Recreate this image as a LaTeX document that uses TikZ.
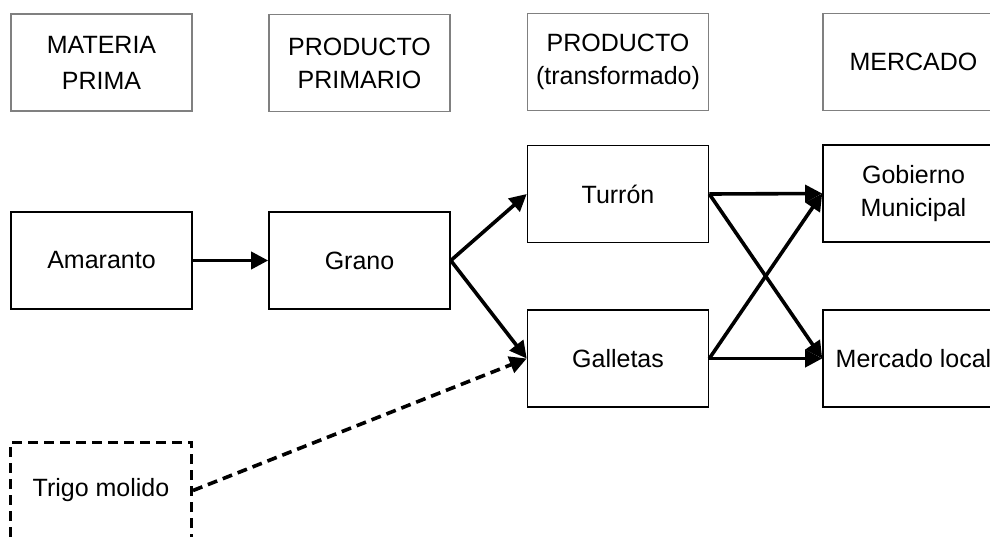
\documentclass[tikz,border=0pt]{standalone}
\usepackage{fontspec}
\setmainfont{Liberation Sans}
\usetikzlibrary{arrows.meta}
\definecolor{hdrgray}{HTML}{808080}
\tikzset{
  box/.style={draw=black, line width=1.6pt, minimum width=181pt, minimum height=97pt,
    inner sep=0pt, align=center, font=\fontsize{25}{33}\selectfont},
  hdr/.style={box, draw=hdrgray, line width=1.8pt},
  dbox/.style={box, dash pattern=on 10pt off 6pt, line width=3pt},
  conn/.style={line width=3.6pt, -{Triangle[length=17pt,width=17pt]}},
  dconn/.style={conn, dash pattern=on 10pt off 6pt}
}
\begin{document}
\begin{tikzpicture}[x=1pt,y=-1pt]
\useasboundingbox (0,0) rectangle (990,536);
\clip (0,0) rectangle (990,536);
% headers
\node[hdr, font=\fontsize{25}{36}\selectfont] (h1) at (101.5,62.5) {MATERIA\\PRIMA};
\node[hdr] (h2) at (359.5,63) {PRODUCTO\\PRIMARIO};
\node[hdr] (h3) at (618,62) {PRODUCTO\\(transformado)};
\node[hdr] (h4) at (913.5,62) {MERCADO};
% boxes
\node[box] (ama) at (101.5,260.5) {Amaranto};
\node[box] (gra) at (359.5,260.5) {Grano};
\node[box] (tur) at (618,194) {Turrón};
\node[box] (gal) at (618,358.5) {Galletas};
\node[box] (gob) at (913.5,193.5) {Gobierno\\Municipal};
\node[box] (mer) at (913.5,358.5) {Mercado local};
\node[dbox] (tri) at (101,490.5) {Trigo molido};
% connectors
\draw[conn] (ama.east) -- (gra.west);
\draw[conn] (gra.east) -- (tur.west);
\draw[conn] (gra.east) -- (gal.west);
\draw[conn] (tur.east) -- (gob.west);
\draw[conn] (tur.east) -- (mer.west);
\draw[conn] (gal.east) -- (gob.west);
\draw[conn] (gal.east) -- (mer.west);
\draw[dconn] (tri.east) -- (gal.west);
\end{tikzpicture}
\end{document}
